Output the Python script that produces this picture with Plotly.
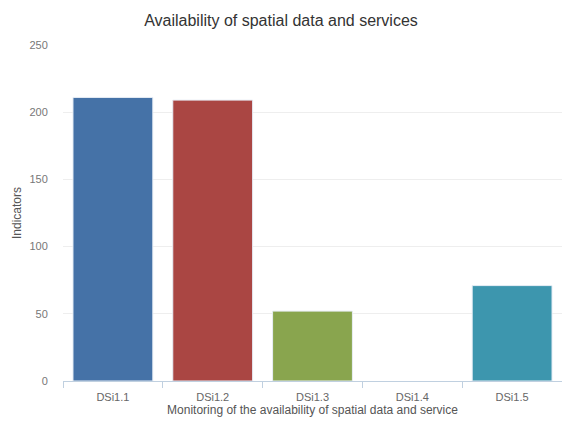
import plotly.graph_objects as go

categories = ["DSi1.1", "DSi1.2", "DSi1.3", "DSi1.4", "DSi1.5"]
values = [211, 209, 52, 0, 71]
colors = ["#4572A7", "#AA4643", "#89A54E", "#80699B", "#3D96AE"]
y_ticks = [0, 50, 100, 150, 200, 250]

fig = go.Figure(go.Bar(
    x=categories, y=values,
    marker=dict(color=colors,
                line=dict(color="#e8eef6", width=[1 if v > 0 else 0 for v in values])),
))

fig.update_layout(
    width=562, height=421,
    margin=dict(l=63, r=0, t=45, b=40),
    paper_bgcolor="white", plot_bgcolor="white",
    font=dict(family="Liberation Sans, Arial, sans-serif", color="#666666"),
    title=dict(text="Availability of spatial data and services", x=0.5, xanchor="center",
               y=0.952, yanchor="middle", font=dict(size=16, color="#333333")),
    bargap=0.2,
    showlegend=False,
)
fig.update_xaxes(
    title=dict(text="Monitoring of the availability of spatial data and service",
               font=dict(size=12, color="#555555"), standoff=0),
    tickfont=dict(size=11, color="#666666"),
    showline=True, linecolor="#C0D0E0", linewidth=1,
    ticks="outside", tickson="boundaries", ticklen=6, tickcolor="#C0D0E0",
    ticklabelstandoff=6,
    showgrid=False,
)
fig.update_yaxes(
    range=[0, 250], tickvals=y_ticks,
    title=dict(text="Indicators", font=dict(size=12, color="#555555"), standoff=5),
    tickfont=dict(size=11, color="#777777"),
    ticks="outside", ticklen=12, tickcolor="rgba(0,0,0,0)",
    showgrid=True, gridcolor="#eeeeee", gridwidth=1,
    zeroline=False, showline=False,
)

fig.write_html("out.html", config={"displayModeBar": False},
               post_script="document.body.style.margin='0';")
